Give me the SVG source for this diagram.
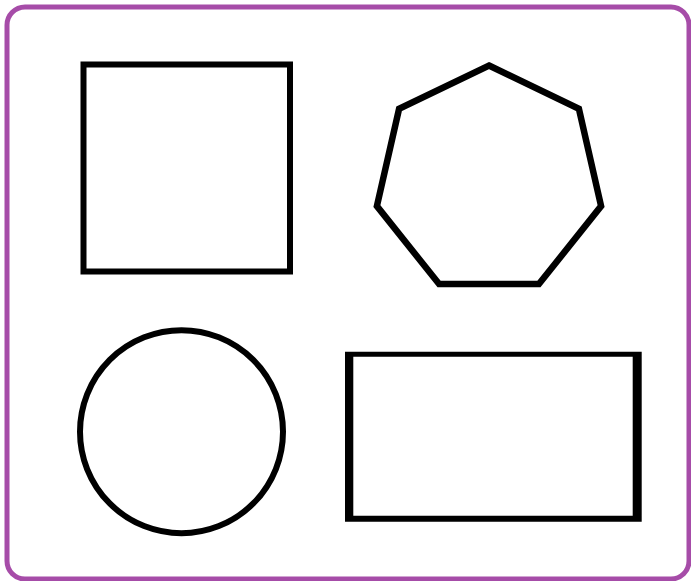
<svg xmlns="http://www.w3.org/2000/svg" width="691" height="581" viewBox="0 0 691 581">
<style>
.shape{fill:#ffffff;stroke:#000000;stroke-width:6}
</style>
<rect x="0" y="0" width="691" height="581" fill="#ffffff"/>
<rect id="frame" x="7" y="7" width="682" height="572" rx="18" ry="18" fill="#ffffff" stroke="#a64ca8" stroke-width="5"/>
<g id="square"><rect class="shape" x="83.5" y="64.5" width="206.5" height="207"/></g>
<g id="heptagon"><polygon class="shape" style="stroke-width:6.5" points="489,65.5 578.9,108.8 601.1,206.1 538.9,284.1 439.1,284.1 376.9,206.1 399.1,108.8"/></g>
<g id="circle"><circle class="shape" cx="181.5" cy="431.7" r="101.5"/></g>
<g id="rectangle"><path fill="#000000" fill-rule="evenodd" d="M345,351.7 H641.7 V521.7 H345 Z M353.3,356.7 V515.7 H632.7 V356.7 Z"/></g>
</svg>
